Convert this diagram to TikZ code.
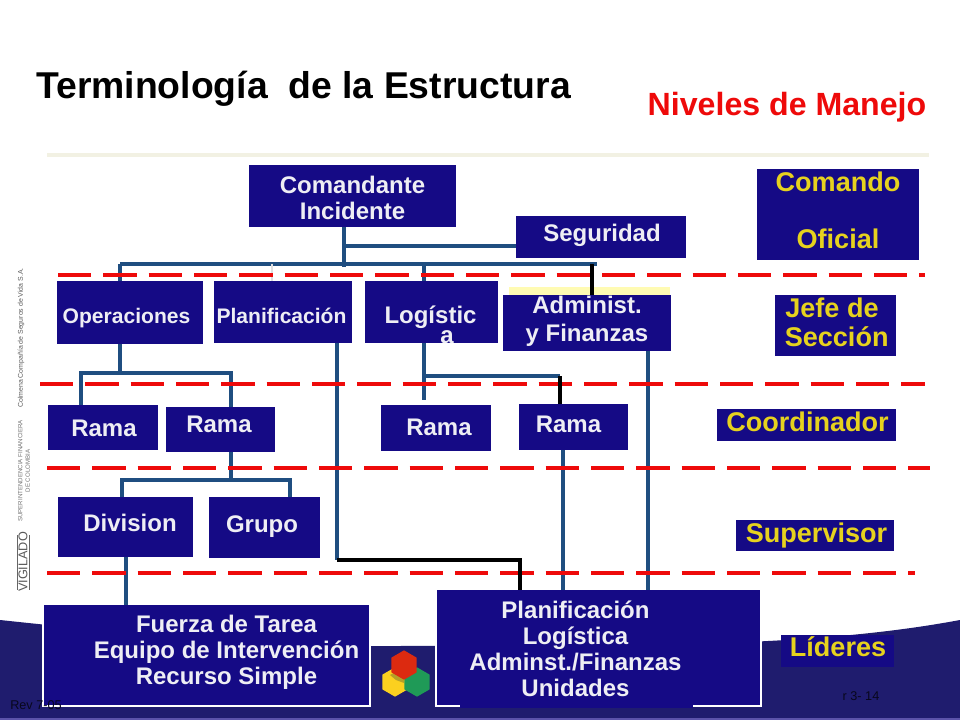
\documentclass[tikz,border=0pt]{standalone}
\usepackage{fontspec}
\setmainfont{Liberation Sans}
\usetikzlibrary{shapes.geometric}
\definecolor{boxNavy}{HTML}{150A85}
\definecolor{footNavy}{HTML}{1F1C6E}
\definecolor{lineBlue}{HTML}{1F4E80}
\definecolor{dashRed}{HTML}{EE0A0A}
\definecolor{textGold}{HTML}{E6D21E}
\definecolor{textWhite}{HTML}{EEEEF4}

\begin{document}
\begin{tikzpicture}
[x=0.75pt,y=-0.75pt,
  boxDecorate/.style={shape=rectangle,fill=boxNavy,inner sep=0pt,outer sep=0pt},
  textBig/.style={text=textWhite,align=center,font=\fontsize{18}{19.5}\selectfont\bfseries},
  textSmall/.style={text=textWhite,align=center,font=\fontsize{15.8}{19.5}\selectfont\bfseries},
  textLevel/.style={text=textGold,align=center,font=\fontsize{20.3}{22}\selectfont\bfseries},
  lineDecorate/.style={-,line width=3pt,lineBlue},
  lineBlack/.style={-,line width=3pt,black},
  lineRed/.style={-,line width=3pt,dashRed,dash pattern=on 25pt off 9pt},
  hexDecorate/.style={shape=regular polygon,regular polygon sides=6,minimum size=22pt,inner sep=0pt}]
\useasboundingbox (0,0) rectangle (960,720);
%% footer and title
\fill[footNavy] (0,620) .. controls (150,636) and (280,648) .. (400,646)
  .. controls (600,645) and (800,650) .. (960,620) -- (960,720) -- (0,720) -- cycle;
\fill[boxNavy!70!white] (0,718) rectangle (960,720);
\draw[line width=3pt,black!10!yellow!8!white!90!gray] (47,155) -- (929,155);
\node (title) at (303.5,89) [font=\fontsize{28}{30}\selectfont\bfseries] {Terminología\ \ de la Estructura};
\node (levels) at (787,107.5) [text=dashRed,font=\fontsize{24.1}{26}\selectfont\bfseries] {Niveles de Manejo};
%% side marks
\node (colmena) at (21,338) [rotate=90,text=black!65,font=\fontsize{5.2}{6}\selectfont] {Colmena Compañía de Seguros de Vida S.A.};
\node (superfin) at (24,471) [rotate=90,text=black!55,align=center,font=\fontsize{4.6}{5.5}\selectfont] {SUPERINTENDENCIA FINANCIERA\\DE COLOMBIA};
\node (vigilado) at (23,562) [rotate=90,text=black!65,font=\fontsize{9.5}{10}\selectfont] {VIGILADO};
\draw[black!60,line width=0.6pt] (17,535) -- (17,590);
\draw[black!60,line width=0.6pt] (29,535) -- (29,590);
%% nodes or boxes
\fill[yellow!30!white] (509,287) rectangle (670,296);
\foreach \boxname/\cx/\cy/\w/\h/\dx/\dy/\boxstyle/\boxtext in {
  cmd/352.5/196/207/62/0/2/textBig/{Comandante\\Incidente},
  seg/601/237/170/42/1/-2/textBig/{Seguridad},
  oper/130/312.5/146/63/-3.5/5.5/textSmall/{Operaciones},
  plan/283/312/138/62/-1.5/4/textSmall/{Planificación},
  log/431.5/312/133/62/-1/13/textBig/{Logístic\\[-4.5pt]\hspace*{25pt}a},
  adm/587/323/168/56/0/-2/textBig/{Administ.\\[1.5pt]y Finanzas},
  rama1/103/427.5/110/45/1/1/textBig/{Rama},
  rama2/220.5/429.5/109/45/-1.5/-5.5/textBig/{Rama},
  rama3/436/428/110/46/3/-1/textBig/{Rama},
  rama4/573.5/427/109/46/-5/-3/textBig/{Rama},
  div/125.5/527/135/60/4.5/-4/textBig/{Division},
  grupo/264.5/527.5/111/61/-2.5/-0.5/textBig/{Grupo},
  fuerza/206.5/655.5/327/101/20/-3/textBig/{Fuerza de Tarea\\Equipo de Intervención\\Recurso Simple},
  planbox/598.5/648/325/116/-23/1/textBig/{Planificación\\Logística\\Adminst./Finanzas\\Unidades}} {
  \node (\boxname) at (\cx,\cy) [boxDecorate,minimum width=\w*0.75pt,minimum height=\h*0.75pt,
    label={[\boxstyle,xshift=\dx*0.75pt,yshift=-\dy*0.75pt]center:{\boxtext}}] {};
}
\draw[white,line width=0.8pt] (fuerza.north west) -- (fuerza.south west) -- (fuerza.south east) -- (fuerza.north east);
\draw[white,line width=0.8pt] (planbox.north west) -- (planbox.south west) -- (planbox.south east) -- (planbox.north east);
\fill[boxNavy] (460,704.5) rectangle (693,708);
\foreach \boxname/\cx/\cy/\w/\h/\dx/\dy/\boxtext in {
  cmdLevel/838/214.5/162/91/0/-4/{Comando\\[21pt]Oficial},
  jefeLevel/835.5/325.5/121/61/-3.5/-3.5/{Jefe de\\\hspace*{7pt}Sección},
  coordLevel/806.5/425/179/32/1/-3/{Coordinador},
  supLevel/815/535.5/158/31/1.5/-0.5/{Supervisor},
  liderLevel/837.5/651/113/32/0.5/-4/{Líderes}} {
  \node (\boxname) at (\cx,\cy) [boxDecorate,minimum width=\w*0.75pt,minimum height=\h*0.75pt,
    label={[textLevel,xshift=\dx*0.75pt,yshift=-\dy*0.75pt]center:{\boxtext}}] {};
}
%% junctions
\foreach \jname/\x/\y in {jCmd/344/267, jSeg/344/246, jOper/120/264, jPlan/272/264, jLog/424/264,
  jBus/597/264, jAdm/592/264, jOpS/120/373, jRa/81/373, jRb/231/373, jGr/231/480, jDv/122/480,
  jGp/290/480, jPl/337/560, jPb/520/560, jLg/424/400, jLa/424/376, jLr/560/376, jRd/563/450, jAf/648/351} {
  \coordinate (\jname) at (\x,\y);
}
%% edges or lines
\draw[lineDecorate] (jCmd |- cmd.south) -- (jCmd);
\draw[lineDecorate] (jSeg) -- (jSeg -| seg.west);
\draw[lineDecorate] (jOper) -- (jBus);
\draw[line width=2pt,black!12] (jPlan) -- (jPlan |- plan.north);
\draw[lineDecorate] (jOper) -- (jOper |- oper.north);
\draw[lineDecorate] (jLog) -- (jLog |- log.north);
\draw[lineDecorate] (jOpS |- oper.south) -- (jOpS);
\draw[lineDecorate] (jRa |- rama1.north) -- (jRa) -- (jRb) -- (jRb |- rama2.north);
\draw[lineDecorate] (jGr |- rama2.south) -- (jGr);
\draw[lineDecorate] (jDv |- div.north) -- (jDv) -- (jGp) -- (jGp |- grupo.north);
\draw[lineDecorate] (div.south) -- (div.south |- fuerza.north);
\draw[lineDecorate] (jPl |- plan.south) -- (jPl);
\draw[lineDecorate] (jLg |- log.south) -- (jLg);
\draw[lineDecorate] (jLa) -- (jLr);
\draw[lineDecorate] (jRd |- rama4.south) -- (jRd |- planbox.north);
\draw[lineDecorate] (jAf |- adm.south) -- (jAf |- planbox.north);
%% dashed level lines
\foreach \lname/\xa/\xb/\y in {lvlA/58/925/275, lvlB/40/925/384, lvlC/47/930/468, lvlD/47/915/573} {
  \coordinate (\lname L) at (\xa,\y);
  \coordinate (\lname R) at (\xb,\y);
  \draw[lineRed] (\lname L) -- (\lname R);
}
\draw[lineBlack] (jAdm) -- (jAdm |- adm.north);
\draw[lineBlack] (jLr) -- (jLr |- rama4.north);
\draw[lineBlack] (jPl) -- (jPb) -- (jPb |- planbox.north);
%% logo
\definecolor{hexYellow}{HTML}{FBD01F}
\definecolor{hexGreen}{HTML}{1F9A57}
\definecolor{hexRed}{HTML}{DC2A10}
\definecolor{hexOlive}{HTML}{B5A028}
\node (hexY) at (395,682) [hexDecorate,rotate=30,fill=hexYellow] {};
\node (hexG) at (417,682) [hexDecorate,rotate=30,fill=hexGreen] {};
\fill[hexOlive] (390,675) -- (403,668) -- (404,683) -- (396,680) -- cycle;
\node (hexR) at (404,665) [hexDecorate,rotate=30,fill=hexRed] {};
%% small print
\node (rev) at (36,705) [text=black!75!footNavy,font=\fontsize{9.5}{10}\selectfont] {Rev 7-05};
\node (page) at (861,696) [text=black!75!footNavy,font=\fontsize{9.5}{10}\selectfont] {r 3- 14};
\end{tikzpicture}
\end{document}
